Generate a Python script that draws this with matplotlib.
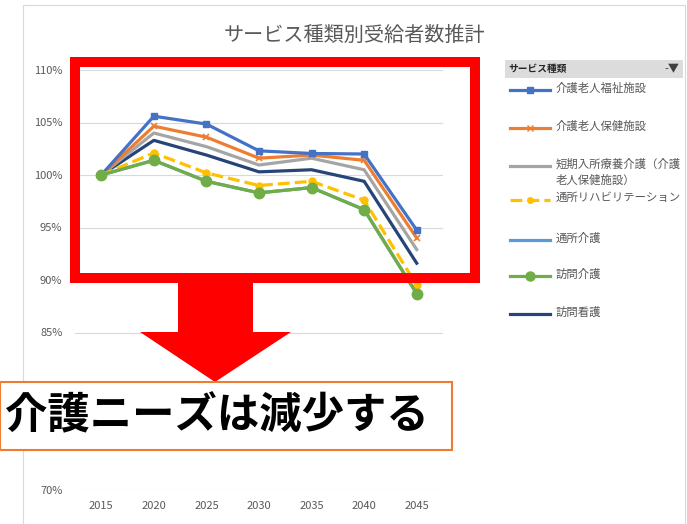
import matplotlib
matplotlib.use("Agg")
import matplotlib.pyplot as plt
from matplotlib.patches import Rectangle, Polygon
from matplotlib.lines import Line2D

plt.rcParams['font.family'] = ['Noto Sans CJK JP', 'DejaVu Sans']

# データ（2015年=100%）
years = ['2015', '2020', '2025', '2030', '2035', '2040', '2045']
fukushi = [100, 105.6, 104.85, 102.3, 102.05, 102.0, 94.75]
hoken = [100, 104.65, 103.6, 101.6, 101.9, 101.4, 94.0]
tanki = [100, 104.0, 102.7, 100.95, 101.6, 100.5, 92.9]
tsusho_reha = [100, 102.1, 100.2, 99.0, 99.4, 97.6, 89.5]
tsusho = [100, 101.4, 99.4, 98.3, 98.8, 96.7, 88.7]
homon_kaigo = [100, 101.4, 99.4, 98.3, 98.8, 96.7, 88.7]
homon_kango = [100, 103.3, 101.9, 100.3, 100.5, 99.4, 91.6]

series = [
    ('介護老人福祉施設', fukushi, '#4472C4', '-', 's', 5),
    ('介護老人保健施設', hoken, '#ED7D31', '-', 'x', 5),
    ('短期入所療養介護（介護\n老人保健施設）', tanki, '#A5A5A5', '-', None, 0),
    ('通所リハビリテーション', tsusho_reha, '#FFC000', '--', 'o', 5),
    ('通所介護', tsusho, '#5B9BD5', '-', None, 0),
    ('訪問介護', homon_kaigo, '#70AD47', '-', 'o', 7.5),
    ('訪問看護', homon_kango, '#264478', '-', None, 0),
]
draw_order = [4, 6, 2, 1, 0, 3, 5]

W, H = 687, 524
fig = plt.figure(figsize=(W / 100, H / 100), dpi=100)

ax = fig.add_axes([75 / W, 34 / H, 368 / W, 420 / H])
x = list(range(len(years)))
for i in draw_order:
    name, vals, col, ls, mk, ms = series[i]
    ax.plot(x, vals, color=col, linestyle=ls, linewidth=2.3, marker=mk,
            markersize=ms, markeredgewidth=1.2 if mk == 'x' else 1,
            zorder=3 + draw_order.index(i))

ax.set_xlim(-0.5, 6.5)
ax.set_ylim(70, 110)
ax.set_yticks(range(70, 111, 5))
ax.set_yticklabels([f'{v}%' for v in range(70, 111, 5)])
ax.set_xticks(x)
ax.set_xticklabels(years)
ax.grid(axis='y', color='#D9D9D9', linewidth=0.8)
ax.set_axisbelow(True)
for s in ax.spines.values():
    s.set_visible(False)
ax.tick_params(length=0, colors='#595959', labelsize=8)
ax.tick_params(axis='y', pad=9)
ax.tick_params(axis='x', pad=8)

fig.text(354 / W, 1 - 35 / H, 'サービス種類別受給者数推計', ha='center', va='center',
         fontsize=14.5, color='#595959')

# 注釈用のオーバーレイ（ピクセル座標）
ov = fig.add_axes([0, 0, 1, 1], zorder=5)
ov.set_xlim(0, W)
ov.set_ylim(H, 0)
ov.axis('off')

ov.add_patch(Rectangle((23, 5), 662, 530, fill=False, edgecolor='#D9D9D9', linewidth=0.8))

# 凡例
ov.add_patch(Rectangle((505, 60), 178, 18, facecolor='#DCDCDC', edgecolor='none'))
ov.text(508, 69, 'サービス種類', fontsize=7, color='#262626', va='center', fontweight='bold')
ov.text(672, 69, '-▼', fontsize=8, color='#404040', va='center', ha='center')
leg_y = [90, 128, 166, 200, 240, 276, 314]
for (name, vals, col, ls, mk, ms), yy in zip(series, leg_y):
    ov.add_line(Line2D([510, 550], [yy, yy], color=col, linestyle=ls, linewidth=2.3))
    if mk:
        ov.add_line(Line2D([530], [yy], color=col, marker=mk, markersize=ms - 1))
    ov.text(556, yy - 7.5, name, fontsize=8.2, color='#595959', va='top', linespacing=1.55)

# 赤枠と矢印
ov.add_patch(Rectangle((75, 62), 400, 216, fill=False, edgecolor='#FF0000',
                       linewidth=7.2, joinstyle='miter'))
ov.add_patch(Polygon([(178, 280), (253, 280), (253, 332), (291, 332), (215, 382),
                      (140, 332), (178, 332)], closed=True, facecolor='#FF0000',
                     edgecolor='none'))

# テキストボックス
ov.add_patch(Rectangle((0, 382), 452, 68, facecolor='white', edgecolor='#ED7D31',
                       linewidth=1.5))
ov.text(217, 416, '介護ニーズは減少する', fontsize=30.5, fontweight='bold', color='black',
        ha='center', va='center')

fig.savefig('out.png', dpi=100)
